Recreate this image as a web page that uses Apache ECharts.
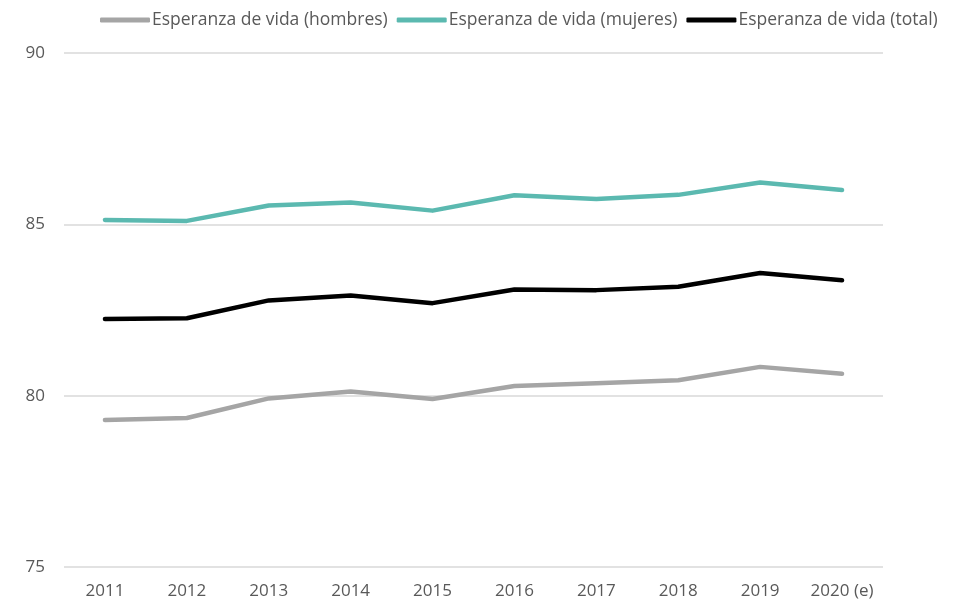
<!DOCTYPE html>
<html>
<head>
<meta charset="utf-8">
<script src="https://cdn.jsdelivr.net/npm/echarts@6/dist/echarts.min.js"></script>
<style>
  html, body { margin: 0; padding: 0; background: #fff; }
  #chart { width: 960px; height: 603px; }
</style>
</head>
<body>
<div id="chart"></div>
<script>
const years = ['2011', '2012', '2013', '2014', '2015', '2016', '2017', '2018', '2019', '2020 (e)'];
const hombres = [79.29, 79.35, 79.92, 80.12, 79.90, 80.28, 80.36, 80.45, 80.84, 80.64];
const mujeres = [85.13, 85.10, 85.55, 85.64, 85.40, 85.85, 85.74, 85.86, 86.22, 86.00];
const total = [82.24, 82.26, 82.78, 82.92, 82.70, 83.10, 83.08, 83.18, 83.58, 83.37];

const fontFamily = '"Open Sans", "Noto Sans", sans-serif';

// Create chart
const chart = echarts.init(document.getElementById('chart'), null, { renderer: 'canvas' });

function makeSeries(name, data, color) {
  return {
    name: name,
    type: 'line',
    data: data,
    symbol: 'none',
    lineStyle: { color: color, width: 4.5, cap: 'round', join: 'round' },
    itemStyle: { color: color },
    animation: false
  };
}

const option = {
  backgroundColor: '#ffffff',
  grid: {
    left: 64,
    right: 77,
    top: 53,
    bottom: 36
  },
  legend: {
    top: 6,
    left: 95,
    icon: 'roundRect',
    itemWidth: 50,
    itemHeight: 5,
    itemGap: 9,
    textStyle: {
      fontFamily: fontFamily,
      fontSize: 17.5,
      color: '#595959',
      padding: [0, 0, 0, -3]
    },
    data: ['Esperanza de vida (hombres)', 'Esperanza de vida (mujeres)', 'Esperanza de vida (total)']
  },
  xAxis: {
    type: 'category',
    data: years,
    boundaryGap: true,
    axisLine: { show: false },
    axisTick: { show: false },
    axisLabel: {
      fontFamily: fontFamily,
      fontSize: 17,
      color: '#595959',
      margin: 16
    }
  },
  yAxis: {
    type: 'value',
    min: 75,
    max: 90,
    interval: 5,
    axisLine: { show: false },
    axisTick: { show: false },
    splitLine: { lineStyle: { color: '#d9d9d9', width: 1.5 } },
    axisLabel: {
      fontFamily: fontFamily,
      fontSize: 17,
      color: '#595959',
      margin: 19
    }
  },
  series: [
    makeSeries('Esperanza de vida (hombres)', hombres, '#a5a5a5'),
    makeSeries('Esperanza de vida (mujeres)', mujeres, '#5bb9b0'),
    makeSeries('Esperanza de vida (total)', total, '#000000')
  ]
};

chart.setOption(option);
</script>
</body>
</html>
